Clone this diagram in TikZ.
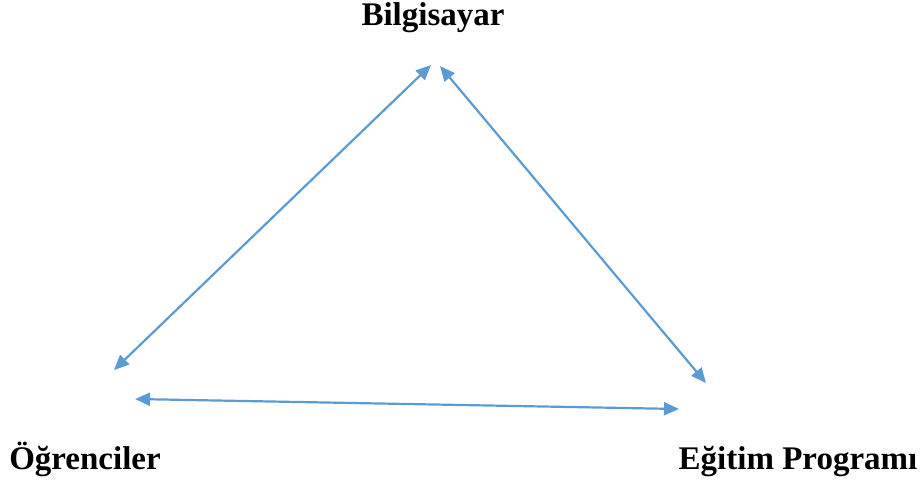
\documentclass[tikz,border=0pt]{standalone}
\usepackage{fontspec}
\setmainfont{Liberation Serif}
\usetikzlibrary{arrows.meta}
\definecolor{arrowblue}{RGB}{91,155,213}
\begin{document}
\begin{tikzpicture}[x=1pt,y=-1pt,
  lbl/.style={font=\bfseries\fontsize{33}{38}\selectfont, inner sep=0pt},
  link/.style={draw=arrowblue, line width=2.2pt, {Triangle[length=15pt,width=13pt]}-{Triangle[length=15pt,width=13pt]}}]
\useasboundingbox (0,0) rectangle (924,485);
\node[lbl] (bil) at (433,18) {Bilgisayar};
\node[lbl, anchor=base] (ogr) at (85,469) {Öğrenciler};
\node[lbl, anchor=base] (egi) at (798,469) {Eğitim Programı};
\coordinate (t1) at (431,65);
\coordinate (t2) at (440,66);
\coordinate (l1) at (114,370);
\coordinate (l2) at (135,399);
\coordinate (r1) at (706,383);
\coordinate (r2) at (679,409);
\draw[link] (l1) -- (t1);
\draw[link] (t2) -- (r1);
\draw[link] (l2) -- (r2);
\end{tikzpicture}
\end{document}
